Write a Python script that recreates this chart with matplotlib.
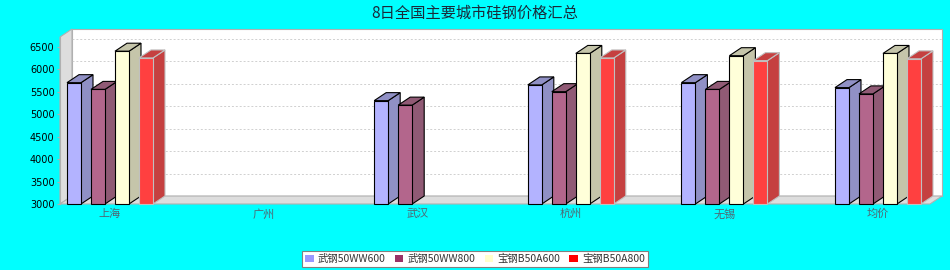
import numpy as np
import matplotlib
matplotlib.use("Agg")
import matplotlib.pyplot as plt
from matplotlib.patches import Polygon, Patch

plt.rcParams['font.family'] = ['Noto Sans CJK SC', 'DejaVu Sans']

# data
cities = ['上海', '广州', '武汉', '杭州', '无锡', '均价']
series_names = ['武钢50WW600', '武钢50WW800', '宝钢B50A600', '宝钢B50A800']
wu600 = [5700, np.nan, 5300, 5650, 5700, 5590]
wu800 = [5550, np.nan, 5200, 5500, 5550, 5450]
bao600 = [6400, np.nan, np.nan, 6350, 6300, 6350]
bao800 = [6250, np.nan, np.nan, 6250, 6190, 6230]
yticks = [3000, 3500, 4000, 4500, 5000, 5500, 6000, 6500]

base_colors = ['#9999FF', '#993366', '#FFFFCC', '#FF0000']
front_colors = ['#B3B3FF', '#B3668C', '#FFFFD9', '#FF4040']
side_colors = ['#9090C5', '#905A75', '#C5C5AA', '#C54040']
edge_colors = ['black', 'black', 'black', '#C0C0C0']

fig = plt.figure(figsize=(9.5, 2.7), dpi=100)
fig.patch.set_facecolor('#00FFFF')

# front plot area in pixels: x 60..930, y 37..204
ax = fig.add_axes([60 / 950, 66 / 270, 870 / 950, 167 / 270])
ax.set_facecolor('none')
x0, x1 = -0.3255, -0.3255 + 870 / 153.6
y0, y1 = 3000, 6716
ax.set_xlim(x0, x1)
ax.set_ylim(y0, y1)
for s in ax.spines.values():
    s.set_visible(False)

ddx = 12 / 153.6   # depth offset in data units
ddy = 178

# back wall
ax.add_patch(Polygon([(x0 + ddx, y0 + ddy), (x1 + ddx, y0 + ddy), (x1 + ddx, y1 + ddy),
                      (x0 + ddx, y1 + ddy)], closed=True, facecolor='white',
                     edgecolor='#B0B0B0', lw=0.8, clip_on=False, zorder=0))
# left wall
ax.add_patch(Polygon([(x0, y0), (x0 + ddx, y0 + ddy), (x0 + ddx, y1 + ddy), (x0, y1)],
                     closed=True, facecolor='#DDDDDD', edgecolor='#B0B0B0', lw=0.8,
                     clip_on=False, zorder=0.5))
# floor
ax.add_patch(Polygon([(x0, y0), (x1, y0), (x1 + ddx, y0 + ddy), (x0 + ddx, y0 + ddy)],
                     closed=True, facecolor='#DDDDDD', edgecolor='#B0B0B0', lw=0.8,
                     clip_on=False, zorder=0.5))
# grid lines on back wall
for yt in yticks[1:]:
    ax.plot([x0 + ddx, x1 + ddx], [yt + ddy, yt + ddy], color='#D0D0D0', lw=0.7,
            ls=(0, (2, 2)), clip_on=False, zorder=0.3)

bw = 14 / 153.6
offsets = np.array([-36, -12, 12, 36]) / 153.6
xs = np.arange(len(cities))
all_series = [wu600, wu800, bao600, bao800]

z = 2
for i in xs:
    for k, vals in enumerate(all_series):
        v = vals[i]
        if np.isnan(v):
            continue
        xl = i + offsets[k] - bw / 2
        xr = xl + bw
        # side
        ax.add_patch(Polygon([(xr, y0), (xr + ddx, y0 + ddy), (xr + ddx, v + ddy), (xr, v)],
                             closed=True, facecolor=side_colors[k], edgecolor=edge_colors[k],
                             lw=0.8, clip_on=False, zorder=z))
        # top
        ax.add_patch(Polygon([(xl, v), (xr, v), (xr + ddx, v + ddy), (xl + ddx, v + ddy)],
                             closed=True, facecolor=side_colors[k], edgecolor=edge_colors[k],
                             lw=0.8, clip_on=False, zorder=z))
        # front
        ax.bar(i + offsets[k], v - y0, bottom=y0, width=bw, color=front_colors[k],
               edgecolor=edge_colors[k], lw=0.8, clip_on=False, zorder=z + 0.5)
        z += 1

ax.set_yticks(yticks)
ax.set_yticklabels([str(t) for t in yticks], fontsize=7, color='black', family='DejaVu Sans')
ax.tick_params(axis='y', length=2, width=0.8, color='#B0B0B0', pad=2)
ax.set_xticks(xs)
ax.set_xticklabels(cities, fontsize=8, color='#4f6874')
ax.tick_params(axis='x', length=0, pad=3.5)
ax.plot([x0, x0], [y0, y1], color='#B0B0B0', lw=0.8, clip_on=False, zorder=1)

fig.text(0.5, 1 - 13 / 270, '8日全国主要城市硅钢价格汇总', ha='center', va='center',
         fontsize=11, color='#1a2a3a')

handles = [Patch(facecolor=c, edgecolor='none') for c in base_colors]
leg = fig.legend(handles, series_names, loc='center', bbox_to_anchor=(475 / 950, 1 - 259 / 270),
                 ncol=4, fontsize=7.5, frameon=True, fancybox=False, framealpha=1,
                 edgecolor='#808080', handlelength=0.8, handleheight=0.8, handletextpad=0.4,
                 columnspacing=0.9, borderpad=0.3)
leg.get_frame().set_linewidth(0.8)
for t in leg.get_texts():
    t.set_color('#333333')

fig.savefig('out.png', dpi=100, facecolor=fig.get_facecolor())
